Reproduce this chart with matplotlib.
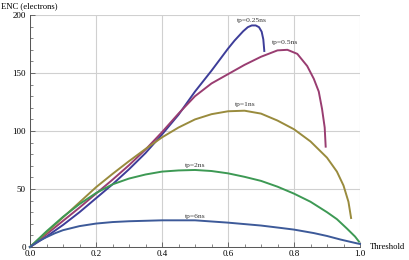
import numpy as np
import matplotlib.pyplot as plt
from matplotlib.ticker import MultipleLocator, FormatStrFormatter

# ENC vs threshold
x_025 = [0, 0.05, 0.1, 0.15, 0.2, 0.25, 0.3, 0.35, 0.4, 0.45, 0.5, 0.55, 0.6,
         0.62, 0.646, 0.66, 0.672, 0.684, 0.694, 0.702, 0.707, 0.71]
y_025 = [0, 9, 19, 30, 42, 54, 67, 81, 97, 114, 134, 152, 171,
         178, 186, 189.5, 191, 191, 189.5, 185.6, 179, 169]

x_05 = [0, 0.05, 0.1, 0.15, 0.2, 0.25, 0.3, 0.35, 0.4, 0.45, 0.5, 0.55, 0.6,
        0.65, 0.7, 0.75, 0.78, 0.81, 0.84, 0.86, 0.875, 0.885, 0.893, 0.896]
y_05 = [0, 11, 22.5, 34, 46, 58, 70.5, 84, 99, 115, 130, 141, 149,
        157, 164, 169.5, 170, 166.5, 156, 145, 134, 119, 103, 86.5]

x_1 = [0, 0.05, 0.1, 0.15, 0.2, 0.25, 0.3, 0.35, 0.4, 0.45, 0.5, 0.55, 0.6,
       0.65, 0.7, 0.75, 0.8, 0.85, 0.9, 0.93, 0.95, 0.965, 0.973]
y_1 = [0, 12.5, 25.5, 38.5, 51.5, 63, 74, 84.5, 94.5, 103, 110, 114.5, 117,
       117.5, 115, 109, 101.5, 91, 77, 65, 53, 39, 25]

x_2 = [0, 0.05, 0.1, 0.15, 0.2, 0.25, 0.3, 0.35, 0.4, 0.45, 0.5, 0.55, 0.6,
       0.65, 0.7, 0.75, 0.8, 0.85, 0.9, 0.93, 0.96, 0.985, 0.997]
y_2 = [0, 13.5, 26, 37, 46.5, 54, 59, 62.5, 65, 66, 66.4, 65.5, 63.5,
       60.5, 57, 52, 46, 39, 30, 24, 16, 9, 4.6]

x_6 = [0, 0.025, 0.05, 0.075, 0.1, 0.15, 0.2, 0.25, 0.3, 0.4, 0.5, 0.6,
       0.7, 0.758, 0.8, 0.86, 0.9, 0.94, 0.97, 0.99, 1.0]
y_6 = [0, 5, 8.5, 11.8, 14.5, 18, 20.2, 21.5, 22.2, 23, 23, 21,
       18.5, 16.5, 15, 12, 9.5, 6.5, 4.5, 3.2, 2.6]

labels = ['tp=0.25ns', 'tp=0.5ns', 'tp=1ns', 'tp=2ns', 'tp=6ns']
label_pos = [(0.673, 193), (0.773, 174), (0.652, 120.5), (0.5, 68.5), (0.5, 24.5)]
colors = ['#3d3d99', '#993d71', '#998b3d', '#3d9954', '#3d5a99']

series = [(x_025, y_025), (x_05, y_05), (x_1, y_1), (x_2, y_2), (x_6, y_6)]

plt.rcParams['font.family'] = 'Liberation Serif'

fig = plt.figure(figsize=(4.09, 2.6), dpi=100)
ax = fig.add_axes([30 / 409, 1 - 247 / 260, 330 / 409, 232 / 260])

for (xs, ys), c in zip(series, colors):
    ax.plot(xs, ys, color=c, linewidth=1.4, clip_on=False, zorder=3,
            solid_joinstyle='round')

for txt, (tx, ty) in zip(labels, label_pos):
    ax.text(tx, ty, txt, fontsize=5.4, ha='center', va='bottom', color='#333333')

ax.set_xlim(0, 1)
ax.set_ylim(0, 200)

ax.xaxis.set_major_locator(MultipleLocator(0.2))
ax.xaxis.set_minor_locator(MultipleLocator(0.05))
ax.yaxis.set_major_locator(MultipleLocator(50))
ax.yaxis.set_minor_locator(MultipleLocator(10))
ax.xaxis.set_major_formatter(FormatStrFormatter('%.1f'))

ax.grid(True, which='major', color='#d0d0d0', linewidth=0.8)
ax.set_axisbelow(True)

for s in ['top', 'right']:
    ax.spines[s].set_visible(False)
for s in ['left', 'bottom']:
    ax.spines[s].set_color('#555555')
    ax.spines[s].set_linewidth(0.7)

ax.tick_params(which='both', direction='in', color='#555555', labelsize=6.5)
ax.tick_params(axis='y', pad=3)
ax.tick_params(axis='x', pad=2)
ax.tick_params(which='major', length=3.5, width=0.6)
ax.tick_params(which='minor', length=2, width=0.5)

fig.text(1 / 409, 1 - 6 / 260, 'ENC (electrons)', fontsize=6.2,
         ha='left', va='center')
ax.text(1.03, 0.0, 'Threshold', transform=ax.transAxes, fontsize=6.2,
        ha='left', va='center')

fig.savefig('out.png', dpi=100)
